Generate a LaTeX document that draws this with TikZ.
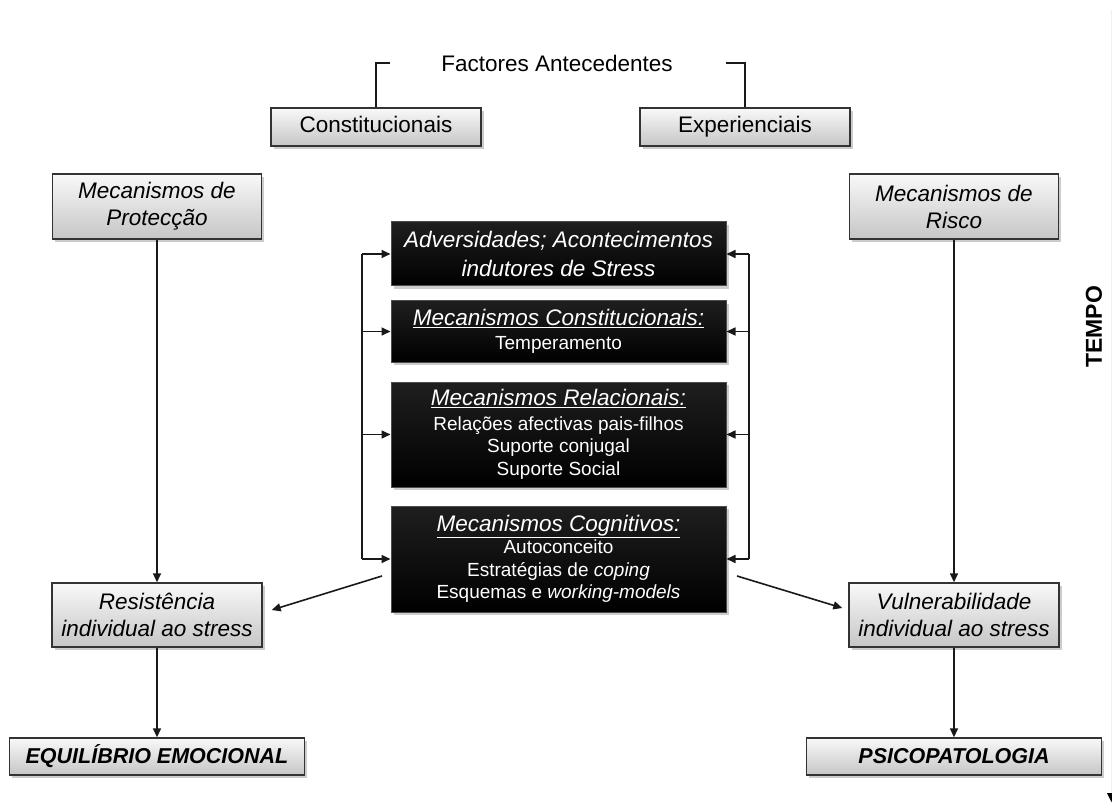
\documentclass[tikz,border=0pt]{standalone}
\usepackage{fontspec}
\setmainfont{Liberation Sans}
\usetikzlibrary{shadows,arrows.meta,calc}

\tikzset{
  greybox/.style={draw=black!80, line width=1.4pt, top color=gray!5, bottom color=gray!45,
    drop shadow={shadow xshift=2.5pt, shadow yshift=-3pt, opacity=0.4},
    align=center, inner sep=2pt, font=\fontsize{22.5}{27}\selectfont},
  darkbox/.style={draw=black!70, line width=1pt, top color=black!88, bottom color=black,
    drop shadow={shadow xshift=2.5pt, shadow yshift=-3pt, opacity=0.4},
    text=white, align=center, inner sep=2pt, minimum width=335pt,
    font=\fontsize{19}{22.5}\selectfont},
  link/.style={draw=black!90, line width=1.6pt},
  arr/.style={link, -{Triangle[length=9pt,width=8pt]}},
}

\begin{document}
\begin{tikzpicture}[x=1pt,y=-1pt]
\useasboundingbox (0,0) rectangle (1112,805);

% antecedent factors
\node (fa) at (557,63) {\fontsize{22.5}{27}\selectfont Factores Antecedentes};
\node[greybox, minimum width=210pt, minimum height=38pt, text height=16pt, text depth=4pt] (c1) at (376,127) {Constitucionais};
\node[greybox, minimum width=210pt, minimum height=38pt, text height=16pt, text depth=4pt] (c2) at (745,127) {Experienciais};
\coordinate (fl) at (390,63);
\coordinate (fr) at (726,63);
\draw[link] (fl) -| (c1.north);
\draw[link] (fr) -| (c2.north);

% protection and risk mechanisms
\node[greybox, minimum width=209pt, minimum height=65pt] (prot) at (157,206.5) {\itshape Mecanismos de\\\itshape Protecção};
\node[greybox, minimum width=209pt, minimum height=65pt] (risk) at (954,206.5) {\itshape Mecanismos de\\\itshape Risco};

% central mechanisms
\node[darkbox, minimum height=64pt, font=\fontsize{22.5}{28.5}\selectfont\itshape] (b1) at (558.5,254)
  {Adversidades; Acontecimentos\\indutores de Stress};
\node[darkbox, minimum height=61pt] (b2) at (558.5,331.5)
  {{\fontsize{22.5}{25}\selectfont\underline{\itshape Mecanismos Constitucionais:}}\\[1pt]Temperamento};
\node[darkbox, minimum height=105pt] (b3) at (558.5,434.5)
  {{\fontsize{22.5}{25}\selectfont\underline{\itshape Mecanismos Relacionais:}}\\[2pt]Relações afectivas pais-filhos\\Suporte conjugal\\Suporte Social};
\node[darkbox, minimum height=106pt] (b4) at (558.5,559)
  {{\fontsize{22.5}{24}\selectfont\underline{\itshape Mecanismos Cognitivos:}}\\Autoconceito\\Estratégias de \textit{coping}\\Esquemas e \textit{working-models}};

% feedback buses on both sides
\coordinate (lbus) at (362,0);
\coordinate (rbus) at (749,0);
\draw[link] (b1.west -| lbus) -- (b4.west -| lbus);
\draw[link] (b1.east -| rbus) -- (b4.east -| rbus);
\foreach \b in {b1,b2,b3,b4}{
  \draw[arr] (\b.west -| lbus) -- (\b.west);
  \draw[arr] (\b.east -| rbus) -- (\b.east);
}

% individual resistance / vulnerability
\node[greybox, minimum width=210pt, minimum height=64pt] (res) at (157,615) {\itshape Resistência\\\itshape individual ao stress};
\node[greybox, minimum width=210pt, minimum height=64pt] (vul) at (954,615) {\itshape Vulnerabilidade\\\itshape individual ao stress};

% outcomes
\node[greybox, minimum width=295pt, minimum height=37pt, font=\fontsize{21.5}{26}\selectfont] (eq) at (157,756.5) {\bfseries\itshape EQUILÍBRIO EMOCIONAL};
\node[greybox, minimum width=295pt, minimum height=37pt, font=\fontsize{21.5}{26}\selectfont] (psi) at (954,756.5) {\bfseries\itshape PSICOPATOLOGIA};

% vertical flows
\draw[arr] (prot.south) -- (res.north);
\draw[arr] (res.south) -- (eq.north);
\draw[arr] (risk.south) -- (vul.north);
\draw[arr] (vul.south) -- (psi.north);

% diagonal flows from the cognitive mechanisms
\coordinate (dl) at (382,576);
\coordinate (dr) at (737,576);
\draw[arr] (dl) -- ([xshift=9pt,yshift=5pt]res.east);
\draw[arr] (dr) -- ([xshift=-6pt,yshift=7pt]vul.west);

% time axis
\node[rotate=90, font=\fontsize{23}{27}\selectfont\bfseries] (tempo) at (1094,327) {TEMPO};
\coordinate (ttop) at (1111.5,10);
\coordinate (tbot) at (1111.5,802);
\draw[gray!12, line width=1pt, -{Triangle[length=9pt,width=9pt,black]}] (ttop) -- (tbot);
\end{tikzpicture}
\end{document}
